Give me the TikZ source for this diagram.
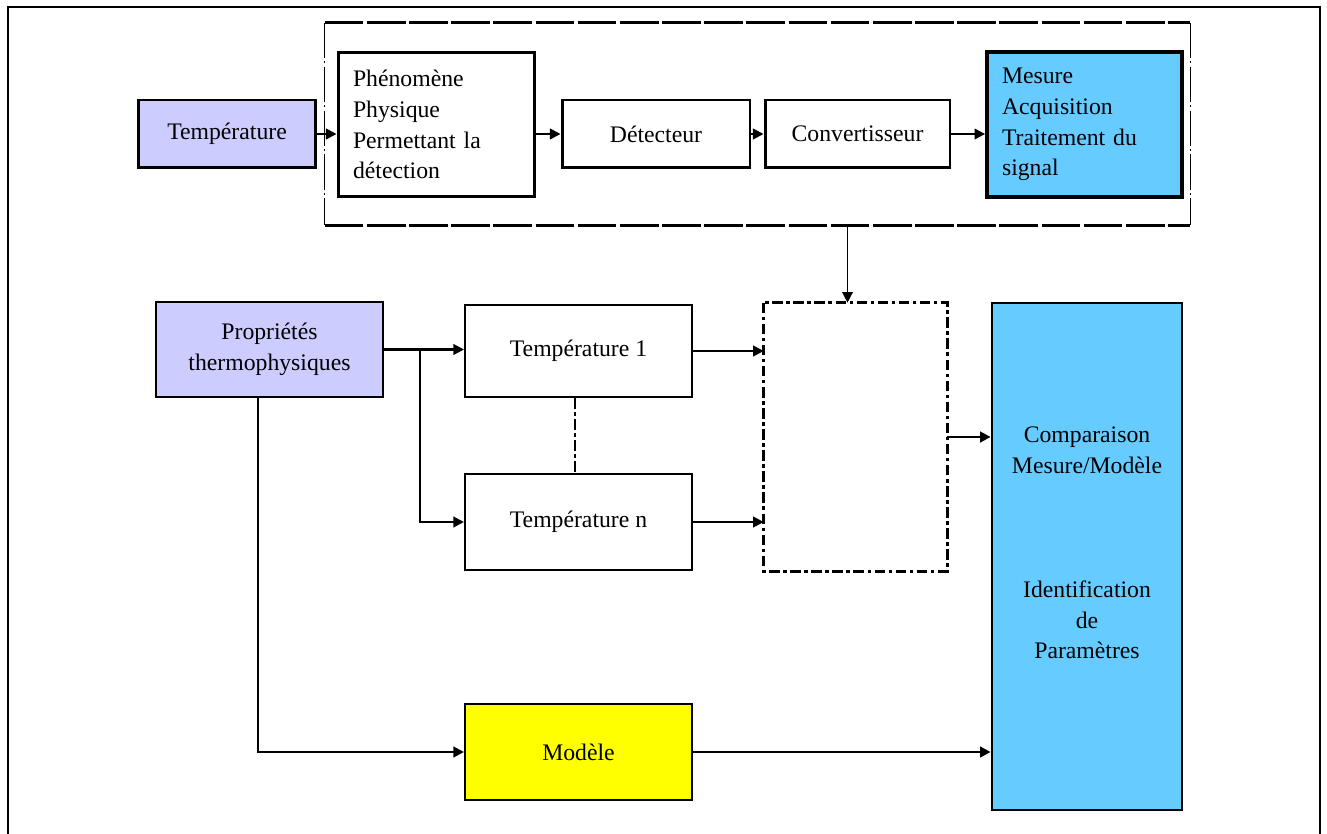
\documentclass[tikz,border=0pt]{standalone}
\usepackage{fontspec}
\setmainfont{Liberation Serif}
\usetikzlibrary{arrows.meta,positioning}

\definecolor{lavande}{RGB}{204,204,255}
\definecolor{ciel}{RGB}{102,204,255}
\definecolor{jaune}{RGB}{255,255,0}

\begin{document}
\begin{tikzpicture}[
  x=0.02cm, y=-0.02cm,
  every node/.style={font=\fontsize{13.5}{17.5}\selectfont},
  box/.style={rectangle, draw, line width=1.7pt, inner sep=0pt, text centered, align=center},
  lowbox/.style={box, line width=1.2pt},
  listbox/.style={rectangle, draw, line width=1.7pt, inner xsep=0.3cm, inner ysep=0pt, align=left},
  arrow/.style={-{Triangle[length=6pt,width=6pt]}, line width=1.2pt},
  dashdot/.style={line width=1.5pt, dash pattern=on 6pt off 2pt on 2pt off 2pt}
]
  \useasboundingbox (0,0) rectangle (1327,834);
  % outer frame
  \draw[line width=1.2pt] (8,834) -- (8,7) -- (1320,7) -- (1320,834);

  % measurement chain
  \node[box, fill=lavande, minimum width=3.56cm, minimum height=1.36cm] (temp) at (227,134) {Température};
  \node[listbox, text width=3.34cm, minimum height=2.9cm] (phen) at (436.5,124.5) {Phénomène\\Physique\\Permettant la\\détection};
  \node[box, minimum width=3.76cm, minimum height=1.36cm] (det) at (656,134) {Détecteur};
  \node[box, minimum width=3.7cm, minimum height=1.36cm] (conv) at (857.5,134) {Convertisseur};
  \node[listbox, fill=ciel, line width=2.2pt, text width=3.3cm, minimum height=2.9cm] (mes) at (1084.5,124.5) {Mesure\\Acquisition\\Traitement du\\signal};
  \node[minimum width=17.3cm, minimum height=4.04cm, inner sep=0pt] (chaine) at (757.5,124) {};
  \draw[line width=1.7pt, dash pattern=on 22pt off 2pt] (chaine.north west) -- (chaine.north east);
  \draw[line width=1.7pt, dash pattern=on 22pt off 2pt] (chaine.south west) -- (chaine.south east);
  \draw[line width=0.6pt, dash pattern=on 20pt off 2pt on 1pt off 2pt] (chaine.north west) -- (chaine.south west);
  \draw[line width=0.6pt, dash pattern=on 20pt off 2pt on 1pt off 2pt] (chaine.north east) -- (chaine.south east);

  % model side
  \node[lowbox, fill=lavande, minimum width=4.54cm, minimum height=1.9cm] (prop) at (269.5,349.5) {Propriétés\\thermophysiques};
  \node[lowbox, minimum width=4.54cm, minimum height=1.84cm] (t1) at (578.5,351) {Température 1};
  \node[lowbox, minimum width=4.54cm, minimum height=1.92cm] (tn) at (578.5,522) {Température n};
  \node[lowbox, fill=jaune, minimum width=4.54cm, minimum height=1.92cm] (model) at (578.5,752) {Modèle};
  \node[minimum width=3.66cm, minimum height=5.36cm, inner sep=0pt] (fusion) at (855.5,437) {};
  \draw[dashdot] (fusion.north west) rectangle (fusion.south east);
  \node[lowbox, fill=ciel, line width=1.6pt, minimum width=3.8cm, minimum height=10.14cm] (cmp) at (1087,556.5) {};
  \node[align=center] (cmptxt) at (1087,450) {Comparaison\\Mesure/Modèle};
  \node[align=center] (idtxt) at (1087,620) {Identification\\de\\Paramètres};

  % connectors
  \draw[arrow] (temp.east) -- (temp.east -| phen.west);
  \draw[arrow] (phen.east |- det.west) -- (det.west);
  \draw[arrow] (det.east) -- (conv.west);
  \draw[arrow] (conv.east) -- (conv.east -| mes.west);
  \draw[arrow, line width=0.8pt] ([xshift=-0.16cm]chaine.south -| fusion.north) -- ([xshift=-0.16cm]fusion.north);

  \coordinate (split) at (420,349.5);
  \draw[arrow] (prop.east) -- (prop.east -| t1.west);
  \draw[arrow] (split) |- (tn.west);
  \draw[arrow] ([xshift=-0.23cm]prop.south) |- (model.west);
  \draw[dashdot] ([xshift=-0.07cm]t1.south) -- ([xshift=-0.07cm]tn.north);
  \draw[arrow] (t1.east) -- (t1.east -| fusion.west);
  \draw[arrow] (tn.east) -- (tn.east -| fusion.west);
  \draw[arrow, line width=1.7pt] (fusion.east) -- (fusion.east -| cmp.west);
  \draw[arrow, line width=1.5pt] (model.east) -- (model.east -| cmp.west);
\end{tikzpicture}
\end{document}
